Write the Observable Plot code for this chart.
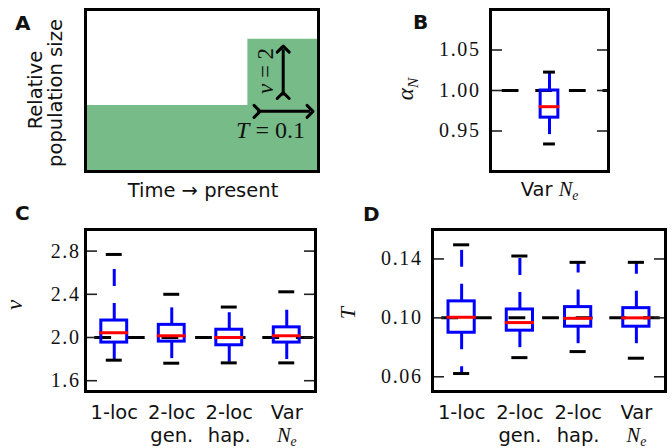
<!DOCTYPE html>
<html>
<head>
<meta charset="utf-8">
<script src="https://cdn.jsdelivr.net/npm/d3@7"></script>
<script src="https://cdn.jsdelivr.net/npm/@observablehq/plot@0.6"></script>
<style>
html, body { margin: 0; padding: 0; background: #fff; }
#fig { position: relative; width: 672px; height: 448px; overflow: hidden; background: #fff; }
#fig svg { position: absolute; left: 0; top: 0; }
</style>
</head>
<body>
<div id="fig"></div>
<script>
// ---------------- data ----------------
const categories = ["1-loc", "2-loc\ngen.", "2-loc\nhap.", "Var\nN_e"];

const nuTrue = 2.0;
const nuLow  = [1.790, 1.762, 1.765, 1.765];
const nuQ1   = [1.953, 1.962, 1.928, 1.953];
const nuMed  = [2.044, 2.016, 2.000, 2.016];
const nuQ3   = [2.157, 2.117, 2.072, 2.094];
const nuHigh = [2.769, 2.400, 2.282, 2.423];
const nuTicks = [1.6, 2.0, 2.4, 2.8];

const tTrue = 0.10;
const tLow  = [0.0622, 0.0730, 0.0771, 0.0726];
const tQ1   = [0.0899, 0.0913, 0.0940, 0.0940];
const tMed  = [0.1004, 0.0968, 0.0997, 0.1000];
const tQ3   = [0.1112, 0.1057, 0.1073, 0.1066];
const tHigh = [0.1496, 0.1420, 0.1377, 0.1377];
const tTicks = [0.06, 0.10, 0.14];

const alphaCategories = ["Var N_e"];
const alphaTrue = 1.00;
const alphaLow  = [0.934];
const alphaQ1   = [0.9665];
const alphaMed  = [0.980];
const alphaQ3   = [1.000];
const alphaHigh = [1.0227];
const alphaTicks = [0.95, 1.00, 1.05];

// panel A: model of relative population size
const modelTime = [-0.33, -0.1, 0];
const modelSize = [1, 2, 2];
const nuValue = 2;
const tValue = 0.1;

// annotation placement (panel A, in data units)
const nuArrow = {t: -0.050, from: 1.15, to: 1.85};
const tArrow  = {n: 0.91, from: -0.087, to: -0.012};
const nuLabel = {t: -0.064, n: 1.52, text: `*ν* = ${nuValue}`};
const tLabel  = {t: -0.068, n: 0.514, text: `*T* = ${tValue}`};

// ---------------- helpers ----------------
const W = 672, H = 448;
const green = "#77bb88";
const SANS = "DejaVu Sans", SERIF = "Liberation Serif";
const baseStyle = {background: "none", fontFamily: SERIF, fontSize: "20px", color: "black", overflow: "visible"};

function boxTable(cats, lo, q1, med, q3, hi) {
  return cats.map((c, i) => ({pos: i + 1, label: c, lo: lo[i], q1: q1[i], med: med[i], q3: q3[i], hi: hi[i]}));
}

function boxMarks(table, bw, trueVal, refOffset) {
  return [
    Plot.ruleY([trueVal], {stroke: "black", strokeWidth: 3, strokeDasharray: "16.8,16.8", strokeDashoffset: refOffset}),
    Plot.ruleX(table, {x: "pos", y1: "q3", y2: "hi", stroke: "blue", strokeWidth: 3, strokeDasharray: "17,17"}),
    Plot.ruleX(table, {x: "pos", y1: "q1", y2: "lo", stroke: "blue", strokeWidth: 3, strokeDasharray: "17,17"}),
    Plot.rect(table, {x1: d => d.pos - bw / 2, x2: d => d.pos + bw / 2, y1: "q1", y2: "q3", fill: "none", stroke: "blue", strokeWidth: 3}),
    Plot.ruleY(table, {y: "hi", x1: d => d.pos - bw / 4, x2: d => d.pos + bw / 4, stroke: "black", strokeWidth: 3, strokeLinecap: "square"}),
    Plot.ruleY(table, {y: "lo", x1: d => d.pos - bw / 4, x2: d => d.pos + bw / 4, stroke: "black", strokeWidth: 3, strokeLinecap: "square"}),
    Plot.ruleY(table, {y: "med", x1: d => d.pos - bw / 2, x2: d => d.pos + bw / 2, stroke: "red", strokeWidth: 3, strokeLinecap: "square"})
  ];
}

function axisMarks(ticks, fmt, pad) {
  return [
    Plot.axisY({ticks, anchor: "left", tickSize: -12, tickPadding: pad, tickFormat: fmt, label: null, stroke: "#222", strokeWidth: 1.6, fill: "#111", fontSize: 20, fontFamily: SERIF}),
    Plot.axisY({ticks, anchor: "right", tickSize: -12, tickFormat: () => "", label: null, stroke: "#222", strokeWidth: 1.6})
  ];
}

function catText(table, below) {
  const fs = 19.5, lh = 1.18;
  return Plot.text(table, {x: "pos", text: "label", frameAnchor: "bottom", lineAnchor: "top", lineHeight: lh,
    dy: below - 0.71 * lh * fs, fontFamily: SANS, fontSize: fs, fill: "#111"});
}

function mathify(root) {
  const ns = "http://www.w3.org/2000/svg";
  const nodes = [...root.querySelectorAll("text, tspan")].filter(el => el.childElementCount === 0 && /\*|_/.test(el.textContent));
  for (const el of nodes) {
    const s = el.textContent;
    el.textContent = "";
    const add = (txt, a = {}) => {
      const t = document.createElementNS(ns, "tspan");
      for (const k in a) t.setAttribute(k, a[k]);
      t.textContent = txt;
      el.appendChild(t);
    };
    const re = /\*([^*]+)\*|(\S)_(\S)/g;
    let last = 0, m;
    while ((m = re.exec(s))) {
      if (m.index > last) add(s.slice(last, m.index));
      if (m[1]) add(m[1], {"font-family": SERIF, "font-style": "italic"});
      else {
        add(m[2], {"font-family": SERIF, "font-style": "italic", "font-size": "1.05em"});
        add(m[3], {"font-family": SERIF, "font-style": "italic", "font-size": "0.7em", "dy": "0.3em"});
      }
      last = re.lastIndex;
    }
    if (last < s.length) add(s.slice(last));
  }
  // numeric tick labels: serif, slightly spaced
  for (const el of root.querySelectorAll("text")) {
    if (/^\d+\.\d+$/.test(el.textContent.trim())) {
      el.style.fontFamily = `"${SERIF}", serif`;
      el.style.fontSize = "20px";
      el.style.letterSpacing = "1.6px";
    }
  }
}

const fig = document.getElementById("fig");

// ---------------- panel A ----------------
const plotA = Plot.plot({
  width: W, height: H, marginLeft: 85, marginRight: W - 318, marginTop: 9, marginBottom: H - 171,
  style: baseStyle,
  x: {domain: [modelTime[0], 0], axis: null},
  y: {domain: [0, 2.45], axis: null},
  marks: [
    Plot.areaY(modelTime, {x: modelTime, y: modelSize, curve: "step-after", fill: green}),
    Plot.link([nuArrow], {x1: "t", x2: "t", y1: "from", y2: "to", stroke: "black", strokeWidth: 3, markerStart: "arrow", markerEnd: "arrow"}),
    Plot.link([tArrow], {x1: "from", x2: "to", y1: "n", y2: "n", stroke: "black", strokeWidth: 3, markerStart: "arrow", markerEnd: "arrow"}),
    Plot.text([nuLabel], {x: "t", y: "n", text: "text", rotate: -90, lineAnchor: "bottom", fontFamily: SERIF, fontSize: 23, fill: "#111"}),
    Plot.text([tLabel], {x: "t", y: "n", text: "text", lineAnchor: "bottom", fontFamily: SERIF, fontSize: 24, fill: "#111"}),
    Plot.frame({stroke: "black", strokeWidth: 3})
  ]
});
fig.appendChild(plotA);

// ---------------- panel B ----------------
const alphaTable = boxTable(alphaCategories, alphaLow, alphaQ1, alphaMed, alphaQ3, alphaHigh);
const plotB = Plot.plot({
  width: W, height: H, marginLeft: 490, marginRight: W - 608, marginTop: 9, marginBottom: H - 171,
  style: baseStyle,
  x: {domain: [0.5, 1.5], axis: null},
  y: {domain: [0.9, 1.1], axis: null},
  marks: [
    ...boxMarks(alphaTable, 0.15, alphaTrue, 21.9),
    ...axisMarks(alphaTicks, d3.format(".2f"), 22),
    catText(alphaTable, 24),
    Plot.frame({stroke: "black", strokeWidth: 3})
  ]
});
fig.appendChild(plotB);

// ---------------- panel C ----------------
const nuTable = boxTable(categories, nuLow, nuQ1, nuMed, nuQ3, nuHigh);
const plotC = Plot.plot({
  width: W, height: H, marginLeft: 85, marginRight: W - 315, marginTop: 229, marginBottom: H - 391,
  style: baseStyle,
  x: {domain: [0.5, 4.5], axis: null},
  y: {domain: [1.5, 3.0], axis: null},
  marks: [
    ...boxMarks(nuTable, 0.45, nuTrue, 24.3),
    ...axisMarks(nuTicks, d3.format(".1f"), 17),
    catText(nuTable, 27),
    Plot.frame({stroke: "black", strokeWidth: 3})
  ]
});
fig.appendChild(plotC);

// ---------------- panel D ----------------
const tTable = boxTable(categories, tLow, tQ1, tMed, tQ3, tHigh);
const plotD = Plot.plot({
  width: W, height: H, marginLeft: 432, marginRight: W - 665, marginTop: 229, marginBottom: H - 391,
  style: baseStyle,
  x: {domain: [0.5, 4.5], axis: null},
  y: {domain: [0.05, 0.16], axis: null},
  marks: [
    ...boxMarks(tTable, 0.45, tTrue, 24.3),
    ...axisMarks(tTicks, d3.format(".2f"), 22),
    catText(tTable, 27),
    Plot.frame({stroke: "black", strokeWidth: 3})
  ]
});
fig.appendChild(plotD);

// ---------------- free labels ----------------
const ov = d3.create("svg").attr("width", W).attr("height", H).style("overflow", "visible");
function label(x, y, str, {size = 19.5, family = SANS, weight = "normal", anchor = "middle", rotate = 0} = {}) {
  ov.append("text")
    .attr("transform", `translate(${x},${y}) rotate(${rotate})`)
    .attr("text-anchor", anchor)
    .attr("font-family", family)
    .attr("font-size", size)
    .attr("font-weight", weight)
    .attr("fill", "#111")
    .text(str);
}
// panel letters
label(15, 30, "A", {size: 20, weight: "bold", anchor: "start"});
label(413, 29, "B", {size: 20, weight: "bold", anchor: "start"});
label(15, 220, "C", {size: 20, weight: "bold", anchor: "start"});
label(363, 221, "D", {size: 20, weight: "bold", anchor: "start"});
// panel A axis titles
label(42, 90, "Relative", {rotate: -90});
label(62, 93, "population size", {rotate: -90});
label(203, 197, "Time → present");
// y-axis titles
label(413, 89, "α_N", {rotate: -90, size: 22, family: SERIF});
label(22, 305, "*ν*", {rotate: -90, size: 23, family: SERIF});
label(355, 313, "*T*", {rotate: -90, size: 22, family: SERIF});

fig.appendChild(ov.node());

for (const svg of fig.querySelectorAll("svg")) mathify(svg);
</script>
</body>
</html>
